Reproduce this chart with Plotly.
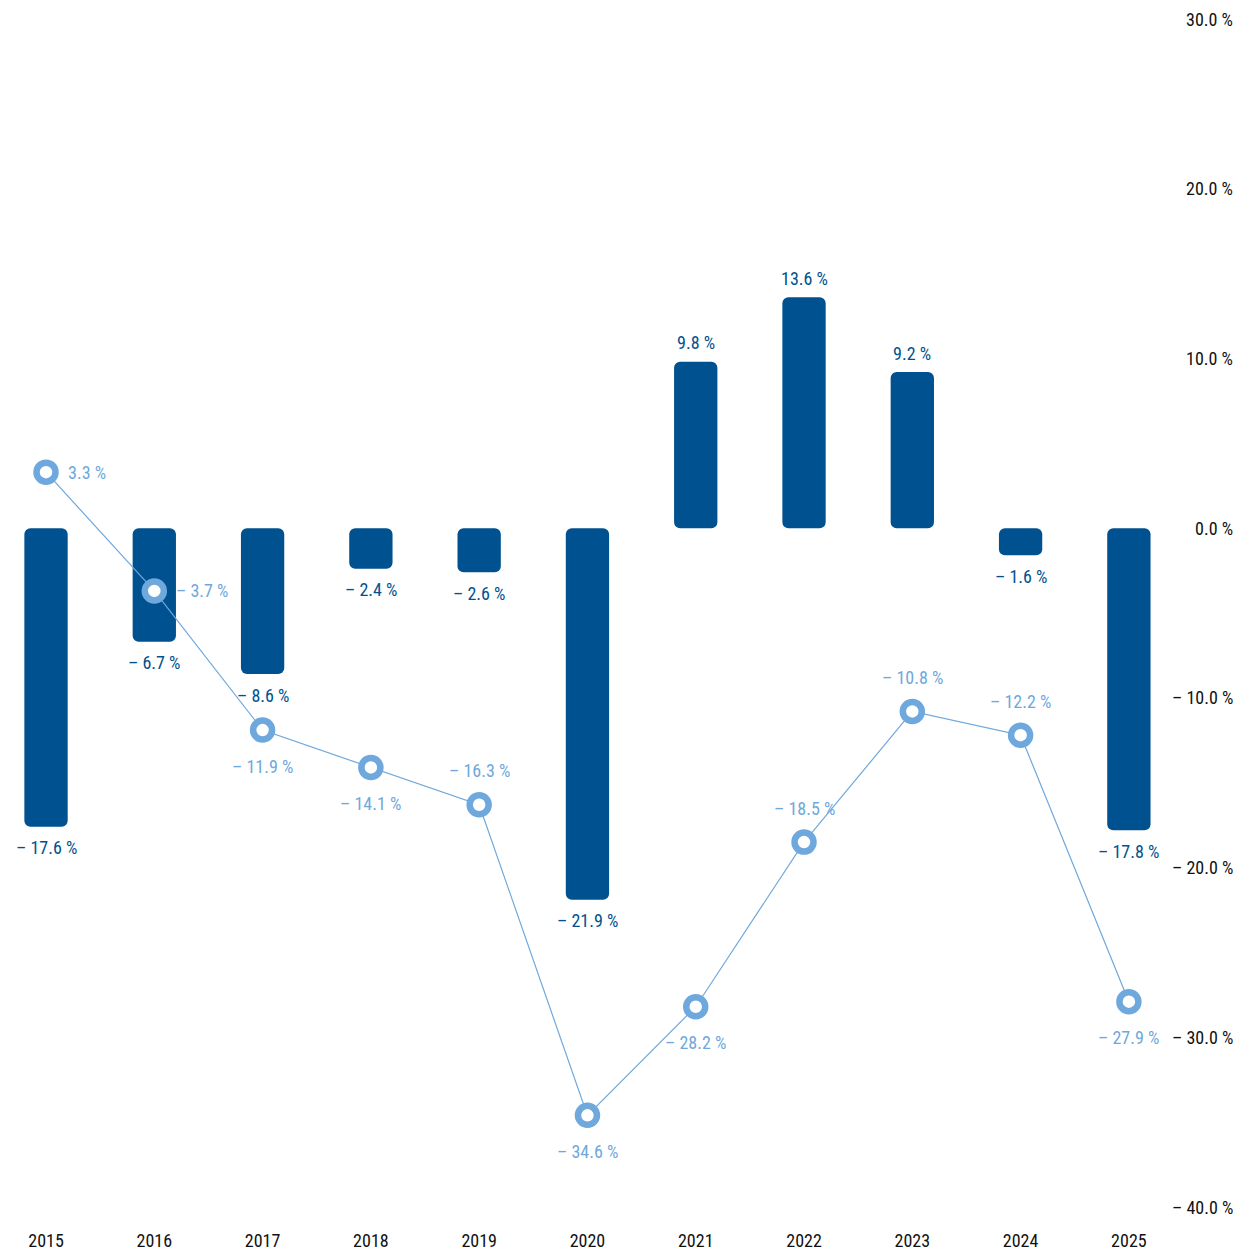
import plotly.graph_objects as go

years = ["2015", "2016", "2017", "2018", "2019", "2020", "2021", "2022", "2023", "2024", "2025"]
bar_values = [-17.6, -6.7, -8.6, -2.4, -2.6, -21.9, 9.8, 13.6, 9.2, -1.6, -17.8]
line_values = [3.3, -3.7, -11.9, -14.1, -16.3, -34.6, -28.2, -18.5, -10.8, -12.2, -27.9]
y_ticks = [-40, -30, -20, -10, 0, 10, 20, 30]

DARK = "#00518f"
LIGHT = "#6fa8dc"
FONT = "Liberation Sans Narrow, Roboto Condensed, DejaVu Sans Condensed, Arial Narrow, sans-serif"
DASH = "\u2013"


def fmt(v):
    s = f"{abs(v):.1f} %"
    return f"{DASH} {s}" if v < 0 else s


# line label placement (style)
line_pos = ["right", "right", "below", "below", "above", "below", "below", "above", "above", "above", "below"]

fig = go.Figure()

fig.add_trace(go.Bar(
    x=years, base=[0] * len(years), y=bar_values,
    marker=dict(color=DARK, cornerradius=6, line=dict(width=0)), width=0.4,
    hoverinfo="skip", showlegend=False))

fig.add_trace(go.Scatter(
    x=years, y=line_values, mode="lines+markers",
    line=dict(color=LIGHT, width=1.2),
    marker=dict(symbol="circle", size=19, color="white", line=dict(color=LIGHT, width=6.5)),
    hoverinfo="skip", showlegend=False))

annotations = []
# category axis: annotation x given as category index
for i, v in enumerate(bar_values):
    annotations.append(dict(
        x=i, y=v, xref="x", yref="y", text=fmt(v), showarrow=False,
        yshift=-21 if v < 0 else 19,
        font=dict(family=FONT, size=18, color=DARK)))

for i, (v, p) in enumerate(zip(line_values, line_pos)):
    a = dict(x=i, y=v, xref="x", yref="y", text=fmt(v), showarrow=False,
             font=dict(family=FONT, size=18, color=LIGHT))
    if p == "right":
        a.update(xanchor="left", xshift=20)
    elif p == "below":
        a.update(yshift=-36)
    else:
        a.update(yshift=34)
    annotations.append(a)

for t in y_ticks:
    annotations.append(dict(
        x=1, xref="paper", y=t, yref="y", text=fmt(t), showarrow=False,
        xanchor="right", font=dict(family=FONT, size=18, color="#111111")))

fig.update_layout(
    width=1245, height=1253,
    margin=dict(l=0, r=10, t=19, b=46),
    paper_bgcolor="white", plot_bgcolor="white",
    barmode="overlay",
    annotations=annotations,
    font=dict(family=FONT, size=18, color="#111111"),
    xaxis=dict(
        type="category", range=[-0.425, 10.98],
        showgrid=False, zeroline=False, showline=False,
        ticks="outside", ticklen=17, tickcolor="rgba(0,0,0,0)",
        tickfont=dict(family=FONT, size=18, color="#111111")),
    yaxis=dict(
        range=[-40, 30], showticklabels=False,
        showgrid=False, zeroline=False, showline=False, ticks=""),
)

fig.write_html("out.html", config={"displayModeBar": False},
               post_script="document.body.style.margin='0px';")
